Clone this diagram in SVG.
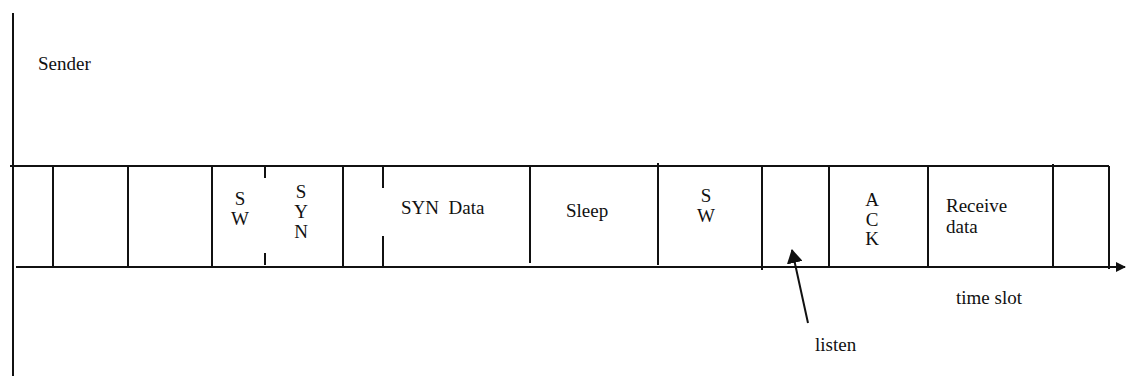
<svg xmlns="http://www.w3.org/2000/svg" width="1126" height="376" viewBox="0 0 1126 376">
<style>
.ln{stroke:#111;stroke-width:2;fill:none}
text{font-family:'Liberation Serif','Times New Roman','DejaVu Serif',serif;font-size:19px;fill:#111}
.c{text-anchor:middle}
</style>
<defs>
<marker id="ah" markerWidth="10" markerHeight="10" refX="9" refY="5" orient="auto" markerUnits="userSpaceOnUse">
<path d="M0,0 L10,5 L0,10 Z" fill="#111"/>
</marker>
<marker id="ah2" markerWidth="14" markerHeight="16" refX="13" refY="8" orient="auto" markerUnits="userSpaceOnUse">
<path d="M0,0 L14,8 L0,16 Z" fill="#111"/>
</marker>
</defs>
<g id="connectors">
<line class="ln" x1="13" y1="13" x2="13" y2="376"/>
<line class="ln" x1="10" y1="166" x2="1109" y2="166"/>
<line class="ln" x1="16" y1="267" x2="1125" y2="267" marker-end="url(#ah)"/>
<line class="ln" x1="53" y1="166" x2="53" y2="267"/>
<line class="ln" x1="128" y1="166" x2="128" y2="267"/>
<line class="ln" x1="212" y1="166" x2="212" y2="267"/>
<line class="ln" x1="265" y1="165" x2="265" y2="178"/>
<line class="ln" x1="265" y1="253" x2="265" y2="265"/>
<line class="ln" x1="343" y1="166" x2="343" y2="267"/>
<line class="ln" x1="383" y1="166" x2="383" y2="188"/>
<line class="ln" x1="383" y1="236" x2="383" y2="267"/>
<line class="ln" x1="530" y1="165" x2="530" y2="263"/>
<line class="ln" x1="658" y1="163" x2="658" y2="265"/>
<line class="ln" x1="762" y1="166" x2="762" y2="270"/>
<line class="ln" x1="829" y1="166" x2="829" y2="268"/>
<line class="ln" x1="928" y1="166" x2="928" y2="268"/>
<line class="ln" x1="1053" y1="164" x2="1053" y2="268"/>
<line class="ln" x1="1109" y1="166" x2="1109" y2="269"/>
<line class="ln" x1="808" y1="323" x2="792" y2="250" marker-end="url(#ah2)"/>
</g>
<g id="sender"><text x="38" y="70">Sender</text></g>
<g id="sw1"><text class="c" x="240" y="205">S</text><text class="c" x="240" y="225">W</text></g>
<g id="syn"><text class="c" x="301" y="198">S</text><text class="c" x="301" y="218">Y</text><text class="c" x="301" y="238">N</text></g>
<g id="syndata"><text x="401" y="214" xml:space="preserve">SYN  Data</text></g>
<g id="sleep"><text x="566" y="217">Sleep</text></g>
<g id="sw2"><text class="c" x="706" y="202">S</text><text class="c" x="706" y="222">W</text></g>
<g id="ack"><text class="c" x="872" y="206">A</text><text class="c" x="872" y="226">C</text><text class="c" x="872" y="245">K</text></g>
<g id="receive"><text x="946" y="212">Receive</text><text x="946" y="233">data</text></g>
<g id="timeslot"><text x="956" y="304">time slot</text></g>
<g id="listen"><text x="815" y="351">listen</text></g>
</svg>
